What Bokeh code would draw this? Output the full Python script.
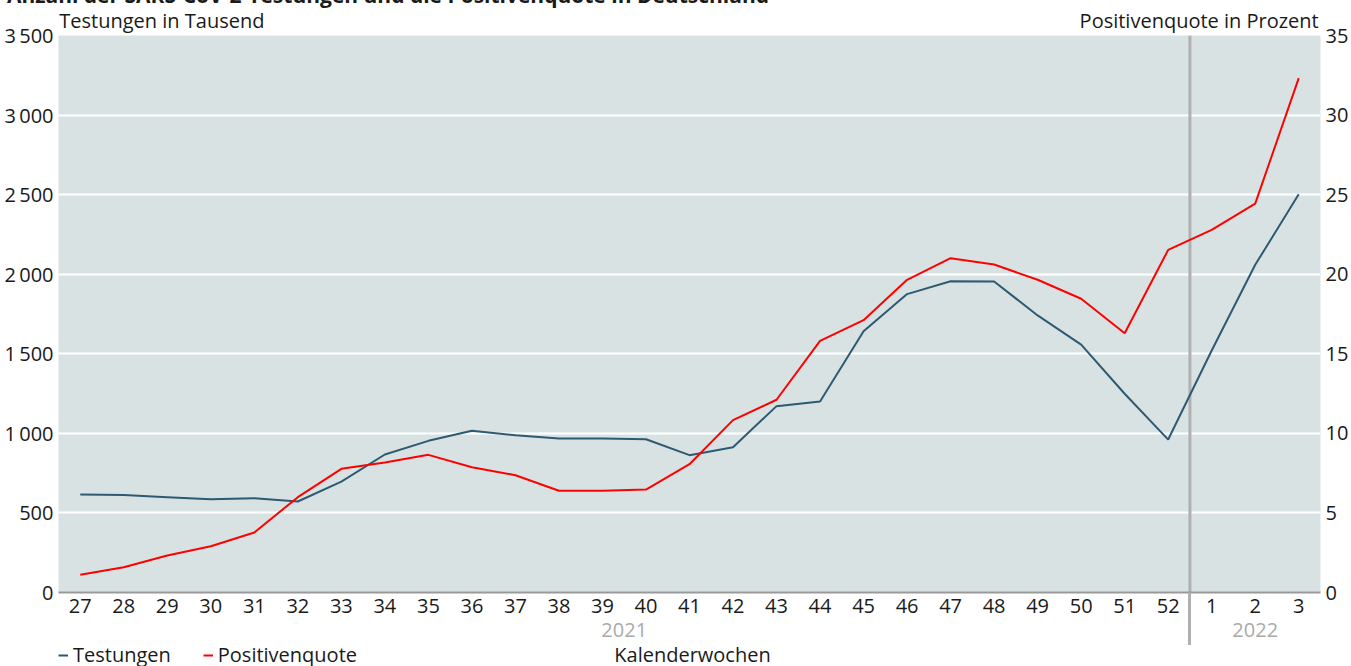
from bokeh.plotting import figure
from bokeh.models import Range1d, LinearAxis, FixedTicker, Label, Span, Legend, LegendItem
from bokeh.layouts import column
from bokeh.embed import file_html
from bokeh.resources import INLINE

# ---- data ----
title = "Anzahl der SARS-CoV-2-Testungen und die Positivenquote in Deutschland"
weeks = ["27", "28", "29", "30", "31", "32", "33", "34", "35", "36", "37", "38", "39",
         "40", "41", "42", "43", "44", "45", "46", "47", "48", "49", "50", "51", "52",
         "1", "2", "3"]
testungen = [616, 612, 599, 586, 593, 572, 697, 867, 953, 1016, 988, 968, 968,
             963, 863, 913, 1171, 1200, 1642, 1875, 1956, 1954, 1741, 1558, 1249, 961,
             1521, 2059, 2503]
positivenquote = [1.11, 1.59, 2.32, 2.91, 3.77, 5.99, 7.77, 8.17, 8.65, 7.87, 7.37, 6.39, 6.39,
                  6.47, 8.06, 10.83, 12.11, 15.81, 17.11, 19.65, 21.01, 20.61, 19.65, 18.46, 16.29, 21.53,
                  22.79, 24.44, 32.32]
left_ticks = [0, 500, 1000, 1500, 2000, 2500, 3000, 3500]
left_tick_labels = ["0", "500", "1\u2009000", "1\u2009500", "2\u2009000", "2\u2009500", "3\u2009000", "3\u2009500"]
right_ticks = [0, 5, 10, 15, 20, 25, 30, 35]
years = ["2021", "2022"]
year_pos = [12.5, 27]          # centre of the weeks of each year
year_break = 25.5              # between week 52 and week 1

FONT = "Open Sans"
FS = "20px"
TXT = "#1a1a1a"
BLUE = "#2d5a73"
RED = "#ff0000"
SEP = "#b0b0b0"

W = 1351
SHIFT = 23                      # canvas starts above the window (title is cut off)
TOP_PANEL = 58                  # height of the two rows above the frame
FL, FR, FT, FB = 58, 1322, 35, 592   # frame edges in window pixels
MAIN_BOTTOM = 645
H = MAIN_BOTTOM + SHIFT
XMIN, XMAX = -0.5, len(weeks) - 0.5
xs = list(range(len(weeks)))
YMAX = left_ticks[-1]
EXT = MAIN_BOTTOM - FB          # length of the year break below the frame


def xd(px):
    return round(XMIN + (px - FL) * (XMAX - XMIN) / (FR - FL), 3)


p = figure(width=W, height=H, output_backend="svg", toolbar_location=None, title_location=None,
           x_range=Range1d(XMIN, XMAX), y_range=Range1d(0, YMAX),
           min_border_left=FL, min_border_right=W - FR, min_border_top=TOP_PANEL,
           min_border_bottom=MAIN_BOTTOM - FB, margin=(-SHIFT, 0, 0, 0))
p.extra_y_ranges = {"pct": Range1d(0, right_ticks[-1])}

p.background_fill_color = "#d9e2e3"
p.border_fill_color = "white"
p.outline_line_color = None
p.xgrid.grid_line_color = None
p.ygrid.grid_line_color = "white"
p.ygrid.grid_line_width = 2
p.ygrid.ticker = FixedTicker(ticks=left_ticks)


def style_axis(ax, color=TXT, standoff=5, size=FS):
    ax.major_tick_line_color = None
    ax.minor_tick_line_color = None
    ax.major_tick_out = 0
    ax.major_tick_in = 0
    ax.minor_tick_out = 0
    ax.minor_tick_in = 0
    ax.axis_line_color = None
    ax.major_label_standoff = standoff
    ax.major_label_text_font = FONT
    ax.major_label_text_font_size = size
    ax.major_label_text_color = color


# x axis (weeks); the year break continues below the frame as a long minor tick
xa = p.xaxis[0]
style_axis(xa, standoff=6 - EXT)
xa.ticker = FixedTicker(ticks=xs, minor_ticks=[year_break])
xa.major_label_overrides = {i: w for i, w in enumerate(weeks)}
xa.axis_line_color = "#999999"
xa.axis_line_width = 2
xa.minor_tick_line_color = SEP
xa.minor_tick_line_width = 3
xa.minor_tick_out = EXT

# year axis below
yr = LinearAxis(ticker=FixedTicker(ticks=year_pos),
                major_label_overrides={yp: y for yp, y in zip(year_pos, years)})
style_axis(yr, color="#aaaaaa", standoff=7)
p.add_layout(yr, "below")

# left axis
ya = p.yaxis[0]
style_axis(ya)
ya.ticker = FixedTicker(ticks=left_ticks)
ya.major_label_overrides = {t: l for t, l in zip(left_ticks, left_tick_labels)}

# right axis
ra = LinearAxis(y_range_name="pct", ticker=FixedTicker(ticks=right_ticks))
style_axis(ra)
p.add_layout(ra, "right")

# axis titles on top, as labels of a bare axis above the frame
t_left, t_right = xd(161.5), xd(1200.5)
ta = LinearAxis(ticker=FixedTicker(ticks=[t_left, t_right]),
                major_label_overrides={t_left: "Testungen in Tausend",
                                       t_right: "Positivenquote in Prozent"})
style_axis(ta, standoff=2)
p.add_layout(ta, "above")

# chart title (cut off by the window's top edge), outermost row above
t_mid = xd(388)
tt = LinearAxis(ticker=FixedTicker(ticks=[t_mid]), major_label_overrides={t_mid: title})
style_axis(tt, standoff=-5, size="21px")
tt.major_label_text_font_style = "bold"
p.add_layout(tt, "above")

# year separator inside the frame (under the lines)
p.add_layout(Span(location=year_break, dimension="height", line_color=SEP, line_width=3,
                  level="underlay"))

# lines
p.line(xs, testungen, line_color=BLUE, line_width=2)
p.line(xs, positivenquote, line_color=RED, line_width=2, y_range_name="pct")

# ---- legend strip (its frame is aligned with the main frame by the column) ----
SH = 666 - MAIN_BOTTOM
strip = figure(width=W, height=SH, output_backend="svg", toolbar_location=None,
               x_range=Range1d(XMIN, XMAX), y_range=Range1d(0, SH), x_axis_type=None, y_axis_type=None,
               min_border_left=FL, min_border_right=W - FR, min_border_top=0, min_border_bottom=0,
               outline_line_color=None, margin=0)
strip.background_fill_color = "white"
strip.border_fill_color = "white"
nan = float("nan")
r1 = strip.line([xs[0]], [nan], line_color=BLUE, line_width=2)
r2 = strip.line([xs[0]], [nan], line_color=RED, line_width=2)
legend = Legend(items=[LegendItem(label="Testungen", renderers=[r1]),
                       LegendItem(label="Positivenquote", renderers=[r2])],
                orientation="horizontal", location=(0, -2), margin=0, padding=0, spacing=32,
                glyph_width=10, glyph_height=20, label_height=20, label_standoff=5,
                label_text_font=FONT, label_text_font_size=FS, label_text_color=TXT,
                border_line_color=None, background_fill_alpha=0)
strip.add_layout(legend)
strip.add_layout(Label(x=xd(693), y=12, text="Kalenderwochen", text_font=FONT, text_font_size=FS,
                       text_color=TXT, text_baseline="middle", text_align="center"))

layout = column(p, strip, spacing=0)
open("out.html", "w").write(file_html(layout, INLINE))
